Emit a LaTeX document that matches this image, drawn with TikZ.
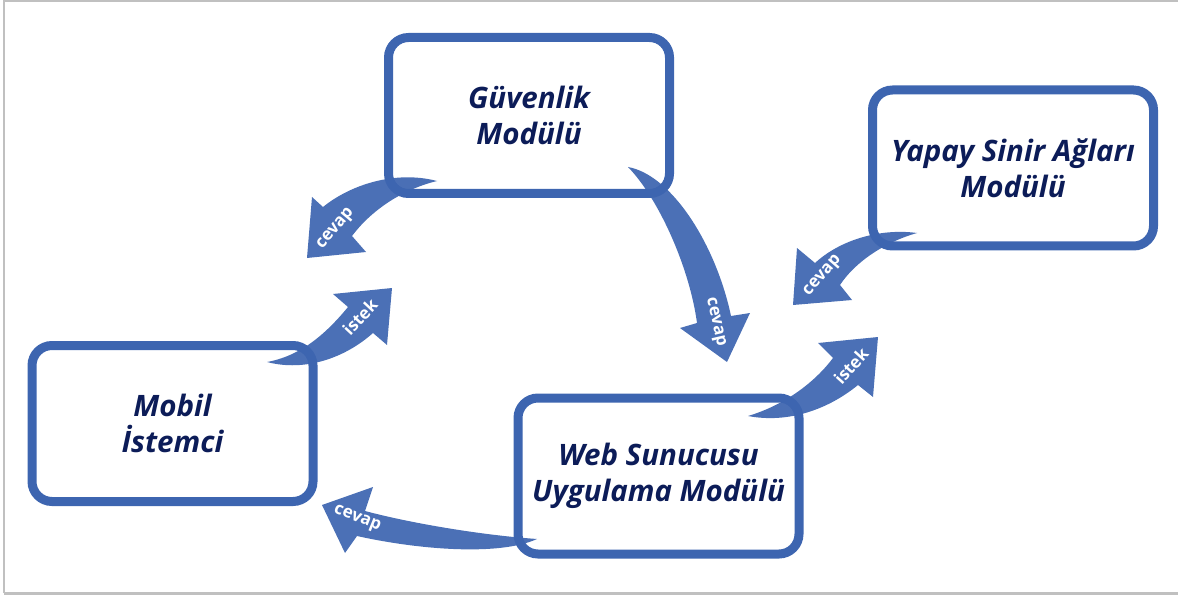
\documentclass[tikz,border=0pt]{standalone}
\usepackage{fontspec}
\newfontfamily\osans{Open Sans}
\definecolor{flowblue}{RGB}{61,101,176}
\definecolor{navy}{RGB}{12,28,88}
\definecolor{framegray}{RGB}{192,192,192}
\tikzset{
  modbox/.style={draw=flowblue, line width=9pt, rounded corners=20pt, fill=white,
    minimum width=281pt, minimum height=156pt, align=center, text=navy,
    font=\osans\bfseries\itshape\fontsize{29.5}{36}\selectfont},
  blockarrow/.style={fill=flowblue, fill opacity=0.93, draw=none},
  arrowlabel/.style={text=white, inner sep=0pt, font=\osans\bfseries\fontsize{17}{18}\selectfont}
}
\begin{document}
\begin{tikzpicture}[x=1pt,y=-1pt]
\useasboundingbox (0,0) rectangle (1178,596);
% light frame
\draw[framegray, line width=1.2pt] (4,593) -- (4,1) -- (1178,1);
\draw[framegray, line width=3pt] (4,593.5) -- (1178,593.5);

% modules
\node[modbox] (guv) at (529,115.5) {G\"uvenlik\\Mod\"ul\"u};
\node[modbox] (ysa) at (1013,168) {Yapay Sinir A\u{g}lar\i\\Mod\"ul\"u};
\node[modbox] (mob) at (172.5,423.5) {Mobil\\\.Istemci};
\node[modbox] (web) at (658.5,476) {Web Sunucusu\\Uygulama Mod\"ul\"u};

% cevap: security module -> client side
\fill[blockarrow] (437,181) .. controls (395,170) and (350,185) .. (323,207)
  -- (312,197) -- (307,258) -- (366,252) -- (352,236)
  .. controls (370,212) and (400,190) .. (437,181) -- cycle;
\node[arrowlabel, rotate=50] (lab1) at (336,229) {cevap};

% istek: client -> security module
\fill[blockarrow] (267,362) .. controls (300,356) and (325,335) .. (348,307)
  -- (333,294) -- (392,288) -- (387,345) -- (373,333)
  .. controls (345,358) and (305,372) .. (267,362) -- cycle;
\node[arrowlabel, rotate=47] (lab2) at (360,317) {istek};

% cevap: security module -> web server
\fill[blockarrow] (628,167) .. controls (672,175) and (716,245) .. (731,316)
  -- (750,313) -- (727,362) -- (680,328) -- (697,323)
  .. controls (690,270) and (660,200) .. (628,167) -- cycle;
\node[arrowlabel, rotate=-77] (lab3) at (715,322) {cevap};

% cevap: neural network module -> web server
\fill[blockarrow] (917,233) .. controls (880,228) and (840,240) .. (815,263)
  -- (797,248) -- (793,305) -- (852,300) -- (840,285)
  .. controls (855,262) and (885,242) .. (917,233) -- cycle;
\node[arrowlabel, rotate=49] (lab4) at (823,276) {cevap};

% istek: web server -> neural network module
\fill[blockarrow] (748,416) .. controls (785,405) and (815,382) .. (833,358)
  -- (818,343) -- (878,337) -- (873,397) -- (858,385)
  .. controls (830,408) and (790,424) .. (748,416) -- cycle;
\node[arrowlabel, rotate=48] (lab5) at (851,366) {istek};

% cevap: web server -> client
\fill[blockarrow] (322,505) -- (373,487) -- (365,511)
  .. controls (410,523) and (480,535) .. (537,539)
  .. controls (500,556) and (420,550) .. (357,536)
  -- (345,553) -- cycle;
\node[arrowlabel, rotate=-22] (lab6) at (357,519) {cevap};
\end{tikzpicture}
\end{document}
